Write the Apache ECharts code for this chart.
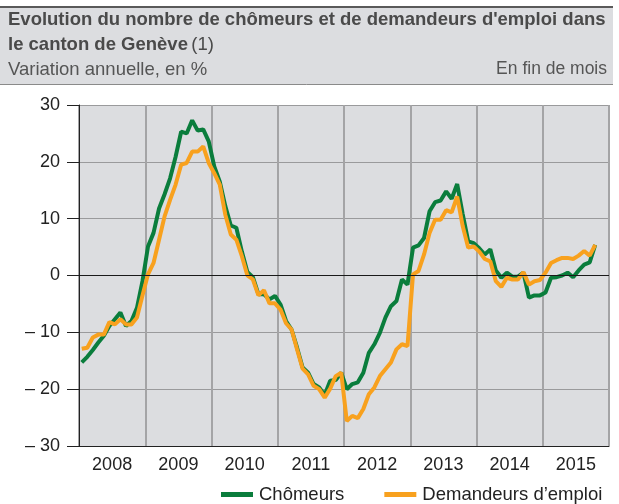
<!DOCTYPE html>
<html lang="fr">
<head>
    <meta charset="UTF-8">
    <title>Chômeurs et demandeurs d'emploi - Genève</title>
    <script src="https://cdn.jsdelivr.net/npm/echarts@6/dist/echarts.min.js"></script>
    <style>
        html, body {
            height: 100%;
            margin: 0;
            background: #fff;
        }
        #main {
            width: 619px;
            height: 504px;
        }
    </style>
</head>
<body>
    <div id="main"></div>
    <script>
        // année affichées sous l'axe
        var years = ['2008', '2009', '2010', '2011', '2012', '2013', '2014', '2015'];

        // une catégorie par mois (janv. 2008 - déc. 2015)
        var months = [];
        years.forEach(function (y) {
            for (var m = 1; m <= 12; m++) {
                months.push(y + '-' + (m < 10 ? '0' + m : m));
            }
        });

        // variation annuelle en %, fin de mois (jusqu'à oct. 2015)
        var chomeurs = [
            -15.3, -14.3, -13.1, -11.8, -10.6, -8.9, -7.7, -6.5, -8.9, -8.0, -5.7, -1.0,
            5.1, 7.5, 11.8, 14.3, 17.1, 20.9, 25.3, 25.0, 27.3, 25.5, 25.7, 23.6,
            19.2, 16.5, 12.2, 8.8, 8.4, 4.2, 0.6, -0.3, -3.3, -3.3, -4.2, -3.6,
            -5.1, -8.0, -9.5, -12.7, -16.2, -17.1, -19.1, -19.7, -21.0, -18.5, -18.4, -17.1,
            -20.0, -19.1, -18.8, -17.1, -13.6, -12.1, -10.1, -7.4, -5.4, -4.5, -0.7, -1.6,
            4.9, 5.3, 6.6, 11.3, 12.9, 13.2, 14.8, 13.5, 16.1, 10.8, 6.0, 5.7,
            4.8, 3.7, 4.6, 0.9, -0.4, 0.5, -0.2, -0.2, 0.5, -3.9, -3.5, -3.5,
            -3.0, -0.4, -0.3, 0.0, 0.5, -0.3, 0.9, 1.9, 2.3, 5.4
        ];

        var demandeurs = [
            -12.9, -12.7, -10.9, -10.4, -10.4, -8.2, -8.6, -7.7, -8.6, -8.6, -7.4, -3.5,
            0.2, 2.2, 6.3, 10.4, 13.3, 16.0, 19.5, 19.8, 21.8, 21.8, 22.7, 19.8,
            18.0, 16.0, 10.7, 7.2, 6.3, 3.4, 0.0, -0.7, -3.5, -2.6, -4.9, -4.9,
            -6.0, -8.4, -9.5, -13.0, -16.4, -17.4, -19.4, -20.0, -21.5, -19.9, -17.7, -17.1,
            -25.6, -24.7, -25.1, -23.5, -20.9, -19.7, -17.7, -16.5, -15.3, -13.0, -12.1, -12.4,
            0.2, 0.8, 3.7, 7.5, 9.8, 9.8, 11.5, 11.1, 13.9, 8.7, 4.9, 5.1,
            4.2, 2.9, 2.5, -1.0, -2.0, -0.4, -0.7, -0.7, 0.6, -1.6, -1.0, -0.8,
            0.5, 2.2, 2.7, 3.1, 3.1, 2.9, 3.5, 4.3, 3.5, 5.4
        ];

        var fontName = '"Liberation Sans", Arial, sans-serif';
        var myChart = echarts.init(document.getElementById('main'));

        var option = {
            animation: false,
            textStyle: { fontFamily: fontName },
            graphic: [
                // bandeau du titre
                { type: 'rect', shape: { x: 0, y: 6, width: 613, height: 79 }, style: { fill: '#dcdde0' }, z: 0 },
                { type: 'line', shape: { x1: 0, y1: 7, x2: 613, y2: 7 }, style: { stroke: '#5a5a5a', lineWidth: 2 }, z: 1 },
                { type: 'line', shape: { x1: 0, y1: 84.5, x2: 613, y2: 84.5 }, style: { stroke: '#8a8a8a', lineWidth: 1 }, z: 1 },
                {
                    type: 'text', left: 8, top: 10, z: 2,
                    style: {
                        text: "Evolution du nombre de chômeurs et de demandeurs d'emploi dans",
                        font: 'bold 18.5px ' + fontName, fill: '#4a4a4a'
                    }
                },
                {
                    type: 'text', left: 8, top: 35, z: 2,
                    style: {
                        text: '{b|le canton de Genève} {n|(1)}',
                        rich: {
                            b: { font: 'bold 18.5px ' + fontName, fill: '#4a4a4a' },
                            n: { font: '18.5px ' + fontName, fill: '#4a4a4a' }
                        }
                    }
                },
                {
                    type: 'text', left: 8, top: 60, z: 2,
                    style: { text: 'Variation annuelle, en %', font: '18.5px ' + fontName, fill: '#555' }
                },
                {
                    type: 'text', right: 12, top: 60, z: 2,
                    style: { text: 'En fin de mois', font: '17.5px ' + fontName, fill: '#555' }
                }
            ],
            legend: {
                left: 216,
                top: 480,
                itemWidth: 32,
                itemHeight: 5,
                itemGap: 40,
                icon: 'rect',
                textStyle: { fontSize: 18.5, color: '#222', padding: [0, 0, 0, 1] },
                data: ['Chômeurs', 'Demandeurs d’emploi']
            },
            grid: {
                left: 79,
                right: 10,
                top: 105,
                bottom: 58,
                show: true,
                backgroundColor: '#dcdde0',
                borderWidth: 0
            },
            xAxis: [
                {
                    type: 'category',
                    data: months,
                    boundaryGap: true,
                    show: false
                },
                {
                    type: 'category',
                    data: years,
                    position: 'bottom',
                    boundaryGap: true,
                    axisLine: { lineStyle: { color: '#222', width: 1 } },
                    axisTick: { length: 11, lineStyle: { color: '#222' } },
                    axisLabel: { fontSize: 18, color: '#222', margin: 10 },
                    splitLine: { show: true, lineStyle: { color: '#a4a4a6', width: 2 } }
                }
            ],
            yAxis: {
                type: 'value',
                min: -30,
                max: 30,
                interval: 10,
                axisLine: { show: true, lineStyle: { color: '#222' } },
                axisTick: { show: true, length: 12, lineStyle: { color: '#222' } },
                axisLabel: {
                    fontSize: 18,
                    color: '#222',
                    margin: 19,
                    formatter: function (v) {
                        return v < 0 ? '– ' + Math.abs(v) : String(v);
                    }
                },
                splitLine: { lineStyle: { color: '#9a9a9c', width: 1 } }
            },
            series: [
                {
                    name: 'Chômeurs',
                    type: 'line',
                    xAxisIndex: 0,
                    data: chomeurs,
                    symbol: 'none',
                    color: '#0a7d3c',
                    lineStyle: { width: 4, color: '#0a7d3c' },
                    markLine: {
                        silent: true,
                        symbol: 'none',
                        label: { show: false },
                        lineStyle: { color: '#1a1a1a', width: 1, type: 'solid' },
                        data: [{ yAxis: 0 }]
                    },
                    z: 3
                },
                {
                    name: 'Demandeurs d’emploi',
                    type: 'line',
                    xAxisIndex: 0,
                    data: demandeurs,
                    symbol: 'none',
                    color: '#f8a11e',
                    lineStyle: { width: 4, color: '#f8a11e' },
                    z: 4
                }
            ]
        };

        myChart.setOption(option);
    </script>
</body>
</html>
